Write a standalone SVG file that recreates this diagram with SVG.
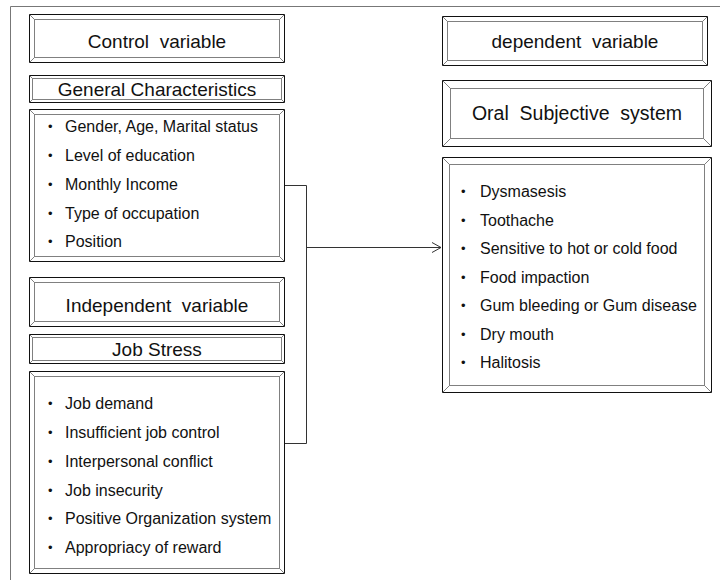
<svg xmlns="http://www.w3.org/2000/svg" width="720" height="580" viewBox="0 0 720 580">
<style>
.o{fill:#fff;stroke:#111;stroke-width:1}
.i{fill:none;stroke:#808080;stroke-width:1}
.d{stroke:#808080;stroke-width:1}
.h{font-family:"Liberation Sans",Arial,sans-serif;font-size:19px;fill:#111;text-anchor:middle;white-space:pre}
.t{font-family:"Liberation Sans",Arial,sans-serif;font-size:16px;fill:#111}
.b{font-family:"Liberation Sans",Arial,sans-serif;font-size:13px;fill:#111}
.c{fill:none;stroke:#333;stroke-width:1}
</style>
<defs>
<marker id="ah" markerWidth="12" markerHeight="12" refX="10" refY="6" orient="auto" markerUnits="userSpaceOnUse">
<path d="M1,1 L10,6 L1,11" fill="none" stroke="#333" stroke-width="1"/>
</marker>
</defs>
<rect width="720" height="580" fill="#fff"/>
<path d="M10.5,580 V6.5 H720" fill="none" stroke="#777" stroke-width="1"/>

<g id="control-variable">
<rect class="o" x="29.5" y="14.5" width="255" height="48"/>
<rect class="i" x="34.5" y="19.5" width="245" height="38"/>
<path class="d" d="M29.5,14.5 L34.5,19.5 M284.5,14.5 L279.5,19.5 M29.5,62.5 L34.5,57.5 M284.5,62.5 L279.5,57.5"/>
<text class="h" x="157" y="48">Control  variable</text>
</g>

<g id="general-characteristics">
<rect class="o" x="29.5" y="75.5" width="255" height="27"/>
<rect class="i" x="32.5" y="78.5" width="249" height="21"/>
<path class="d" d="M29.5,75.5 L32.5,78.5 M284.5,75.5 L281.5,78.5 M29.5,102.5 L32.5,99.5 M284.5,102.5 L281.5,99.5"/>
<text class="h" x="157" y="96">General Characteristics</text>
</g>

<g id="general-list">
<rect class="o" x="29.5" y="109.5" width="255" height="152"/>
<rect class="i" x="34.5" y="114.5" width="245" height="142"/>
<path class="d" d="M29.5,109.5 L34.5,114.5 M284.5,109.5 L279.5,114.5 M29.5,261.5 L34.5,256.5 M284.5,261.5 L279.5,256.5"/>
<text class="b" x="48" y="131">•</text><text class="t" x="65" y="132">Gender, Age, Marital status</text>
<text class="b" x="48" y="160">•</text><text class="t" x="65" y="161">Level of education</text>
<text class="b" x="48" y="189">•</text><text class="t" x="65" y="190">Monthly Income</text>
<text class="b" x="48" y="217.5">•</text><text class="t" x="65" y="218.5">Type of occupation</text>
<text class="b" x="48" y="246">•</text><text class="t" x="65" y="247">Position</text>
</g>

<g id="independent-variable">
<rect class="o" x="29.5" y="277.5" width="255" height="49"/>
<rect class="i" x="34.5" y="282.5" width="245" height="39"/>
<path class="d" d="M29.5,277.5 L34.5,282.5 M284.5,277.5 L279.5,282.5 M29.5,326.5 L34.5,321.5 M284.5,326.5 L279.5,321.5"/>
<text class="h" x="157" y="312">Independent  variable</text>
</g>

<g id="job-stress">
<rect class="o" x="29.5" y="334.5" width="255" height="29"/>
<rect class="i" x="32.5" y="337.5" width="249" height="23"/>
<path class="d" d="M29.5,334.5 L32.5,337.5 M284.5,334.5 L281.5,337.5 M29.5,363.5 L32.5,360.5 M284.5,363.5 L281.5,360.5"/>
<text class="h" x="157" y="356">Job Stress</text>
</g>

<g id="job-stress-list">
<rect class="o" x="29.5" y="371.5" width="255" height="202"/>
<rect class="i" x="34.5" y="376.5" width="245" height="192"/>
<path class="d" d="M29.5,371.5 L34.5,376.5 M284.5,371.5 L279.5,376.5 M29.5,573.5 L34.5,568.5 M284.5,573.5 L279.5,568.5"/>
<text class="b" x="48" y="408">•</text><text class="t" x="65" y="409">Job demand</text>
<text class="b" x="48" y="437">•</text><text class="t" x="65" y="438">Insufficient job control</text>
<text class="b" x="48" y="466">•</text><text class="t" x="65" y="467">Interpersonal conflict</text>
<text class="b" x="48" y="494.5">•</text><text class="t" x="65" y="495.5">Job insecurity</text>
<text class="b" x="48" y="523">•</text><text class="t" x="65" y="524">Positive Organization system</text>
<text class="b" x="48" y="552">•</text><text class="t" x="65" y="553">Appropriacy of reward</text>
</g>

<g id="dependent-variable">
<rect class="o" x="442.5" y="16.5" width="265" height="49"/>
<rect class="i" x="447.5" y="21.5" width="255" height="39"/>
<path class="d" d="M442.5,16.5 L447.5,21.5 M707.5,16.5 L702.5,21.5 M442.5,65.5 L447.5,60.5 M707.5,65.5 L702.5,60.5"/>
<text class="h" x="575" y="48">dependent  variable</text>
</g>

<g id="oral-subjective-system">
<rect class="o" x="442.5" y="80.5" width="269" height="66"/>
<rect class="i" x="450.5" y="88.5" width="253" height="50"/>
<path class="d" d="M442.5,80.5 L450.5,88.5 M711.5,80.5 L703.5,88.5 M442.5,146.5 L450.5,138.5 M711.5,146.5 L703.5,138.5"/>
<text class="h" x="577" y="120" style="font-size:19.5px">Oral  Subjective  system</text>
</g>

<g id="oral-list">
<rect class="o" x="442.5" y="157.5" width="269" height="235"/>
<rect class="i" x="449.5" y="164.5" width="255" height="221"/>
<path class="d" d="M442.5,157.5 L449.5,164.5 M711.5,157.5 L704.5,164.5 M442.5,392.5 L449.5,385.5 M711.5,392.5 L704.5,385.5"/>
<text class="b" x="461" y="196">•</text><text class="t" x="480" y="197">Dysmasesis</text>
<text class="b" x="461" y="224.5">•</text><text class="t" x="480" y="225.5">Toothache</text>
<text class="b" x="461" y="253">•</text><text class="t" x="480" y="254">Sensitive to hot or cold food</text>
<text class="b" x="461" y="281.5">•</text><text class="t" x="480" y="282.5">Food impaction</text>
<text class="b" x="461" y="310">•</text><text class="t" x="480" y="311">Gum bleeding or Gum disease</text>
<text class="b" x="461" y="338.5">•</text><text class="t" x="480" y="339.5">Dry mouth</text>
<text class="b" x="461" y="367">•</text><text class="t" x="480" y="368">Halitosis</text>
</g>

<g id="connectors">
<path class="c" d="M285,185.5 H306.5 V443.5 H285"/>
<path class="c" d="M306.5,247.5 H441" marker-end="url(#ah)"/>
</g>
</svg>
